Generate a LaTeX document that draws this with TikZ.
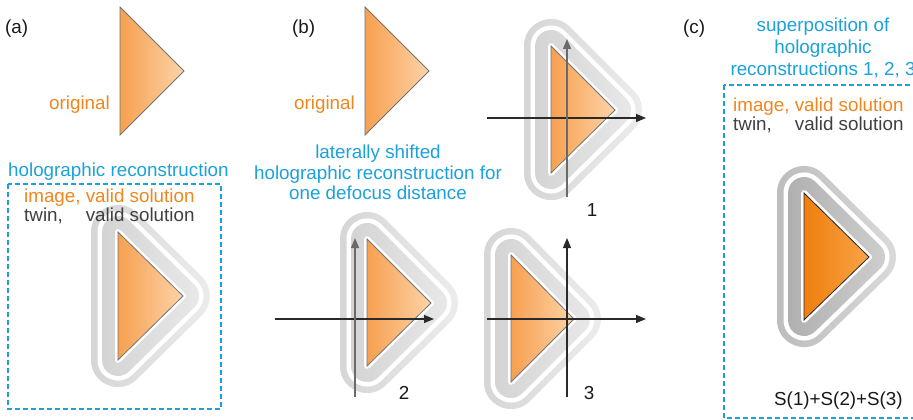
\documentclass[tikz,border=0pt]{standalone}
\usepackage{fontspec}
\setmainfont{Liberation Sans}
\usetikzlibrary{arrows.meta,fadings}
\definecolor{holoblue}{HTML}{1BA1DB}
\definecolor{holoorange}{HTML}{F0861E}
\definecolor{twingray}{HTML}{404040}
\definecolor{ringA}{HTML}{D6D6D6}
\definecolor{bandA}{HTML}{D2D2D2}
\definecolor{ringC}{HTML}{BDBDBD}
\definecolor{bandC}{HTML}{ADADAD}
\definecolor{triL}{HTML}{F7A050}
\definecolor{triR}{HTML}{FDD3A8}
\definecolor{triCL}{HTML}{EF7E0E}
\definecolor{triCR}{HTML}{F9A448}
\definecolor{axisdark}{HTML}{2A2A2A}
\definecolor{axisgray}{HTML}{6A6A6A}
\tikzfading[name=fadeLR, left color=transparent!100, right color=transparent!0]
% #1 xleft #2 ytop #3 ybot #4 xapex #5 yapex #6 ring colour #7 band colour #8 fade opacity
\newcommand\holorings[8]{%
  \draw[line width=54pt,#6,line join=round] (#1,#2) -- (#4,#5) -- (#1,#3) -- cycle;
  \draw[line width=41pt,white,line join=round] (#1,#2) -- (#4,#5) -- (#1,#3) -- cycle;
  \draw[line width=32pt,#7,line join=round] (#1,#2) -- (#4,#5) -- (#1,#3) -- cycle;
  \draw[line width=6pt,white,line join=round] (#1,#2) -- (#4,#5) -- (#1,#3) -- cycle;
  \fill[white,path fading=fadeLR,fill opacity=#8] ({#1-28},{#2-28}) rectangle ({#4+28},{#3+28});
}
% #1 xleft #2 ytop #3 ybot #4 xapex #5 yapex #6 left colour #7 right colour #8 edge colour
\newcommand\holotri[8]{%
  \shadedraw[left color=#6,right color=#7,draw=#8,line width=0.8pt] (#1,#2) -- (#4,#5) -- (#1,#3) -- cycle;
}
\tikzset{
  every node/.style={font=\fontsize{18.8}{21}\selectfont, inner sep=0pt},
  bluetxt/.style={text=holoblue},
  orangetxt/.style={text=holoorange},
  twintxt/.style={text=twingray},
  plaintxt/.style={text=black!90},
  dashbox/.style={draw=holoblue, line width=2pt, dash pattern=on 5pt off 3pt},
  axisline/.style={line width=1.2pt, -{Triangle[length=10pt,width=8pt]}},
}
\begin{document}
\begin{tikzpicture}[x=1pt,y=-1pt]
\clip (0,0) rectangle (913,420);
\fill[white] (0,0) rectangle (913,420);

% rings
\holorings{118}{232}{360}{183}{296}{ringA}{bandA}{0.55}
\holorings{367}{239}{366}{431}{303}{ringA}{bandA}{0.55}
\holorings{511}{255}{382}{574}{319}{ringA}{bandA}{0.55}
\holorings{551}{46}{173}{615}{110}{ringA}{bandA}{0.55}
\holorings{804}{193}{320}{869}{257}{ringC}{bandC}{0.45}

% labels (a)
\node[plaintxt, anchor=base west] (la) at (5,34) {(a)};
\node[orangetxt, anchor=base east] (origa) at (110,110) {original};
\node[bluetxt, anchor=base west] (holoa) at (8,176) {holographic reconstruction};
\node[orangetxt, anchor=base west] (imga) at (24,202) {image, valid solution};
\node[twintxt, anchor=base west] (twina) at (24,221) {\rlap{twin,}\phantom{image, }valid solution};

% labels (b)
\node[plaintxt, anchor=base west] (lb) at (292,34) {(b)};
\node[orangetxt, anchor=base east] (origb) at (355,110) {original};
\node[bluetxt, anchor=base] (shift1) at (378,158) {laterally shifted};
\node[bluetxt, anchor=base] (shift2) at (378,179) {holographic reconstruction for};
\node[bluetxt, anchor=base] (shift3) at (378,199) {one defocus distance};
\node[plaintxt, anchor=base] (n1) at (592,216) {1};
\node[plaintxt, anchor=base] (n2) at (404,399) {2};
\node[plaintxt, anchor=base] (n3) at (589,399) {3};

% labels (c)
\node[plaintxt, anchor=base west] (lc) at (683,34) {(c)};
\node[bluetxt, anchor=base] (sup1) at (823,32) {superposition of};
\node[bluetxt, anchor=base] (sup2) at (823,54) {holographic};
\node[bluetxt, anchor=base] (sup3) at (823,76) {reconstructions 1, 2, 3};
\node[orangetxt, anchor=base west] (imgc) at (733,111) {image, valid solution};
\node[twintxt, anchor=base west] (twinc) at (733,130) {\rlap{twin,}\phantom{image, }valid solution};
\node[plaintxt, anchor=base west] (sum) at (774,405) {S(1)+S(2)+S(3)};

% triangles
\holotri{120}{7}{135}{184}{71}{triL}{triR}{black!55}
\holotri{118}{232}{360}{183}{296}{triL}{triR}{black!55}
\holotri{365}{7}{135}{429}{71}{triL}{triR}{black!55}
\holotri{551}{46}{173}{615}{110}{triL}{triR}{black!55}
\holotri{367}{239}{366}{431}{303}{triL}{triR}{black!55}
\holotri{511}{255}{382}{574}{319}{triL}{triR}{black!55}
\holotri{804}{193}{320}{869}{257}{triCL}{triCR}{black!85}

% axes
\coordinate (h1a) at (487,118); \coordinate (h1b) at (646,118);
\coordinate (v1a) at (567,197); \coordinate (v1b) at (567,39);
\coordinate (h2a) at (275,319); \coordinate (h2b) at (434,319);
\coordinate (v2a) at (355,397); \coordinate (v2b) at (355,238);
\coordinate (h3a) at (487,319); \coordinate (h3b) at (646,319);
\coordinate (v3a) at (567,397); \coordinate (v3b) at (567,238);
\draw[axisline, axisdark] (h1a) -- (h1b);
\draw[axisline, axisgray] (v1a) -- (v1b);
\draw[axisline, axisdark] (h2a) -- (h2b);
\draw[axisline, axisgray] (v2a) -- (v2b);
\draw[axisline, axisdark] (h3a) -- (h3b);
\draw[axisline, axisdark] (v3a) -- (v3b);

% dashed boxes
\draw[dashbox] (8,184) rectangle (221,409);
\draw[dashbox] (724,85) rectangle (940,418);
\end{tikzpicture}
\end{document}
